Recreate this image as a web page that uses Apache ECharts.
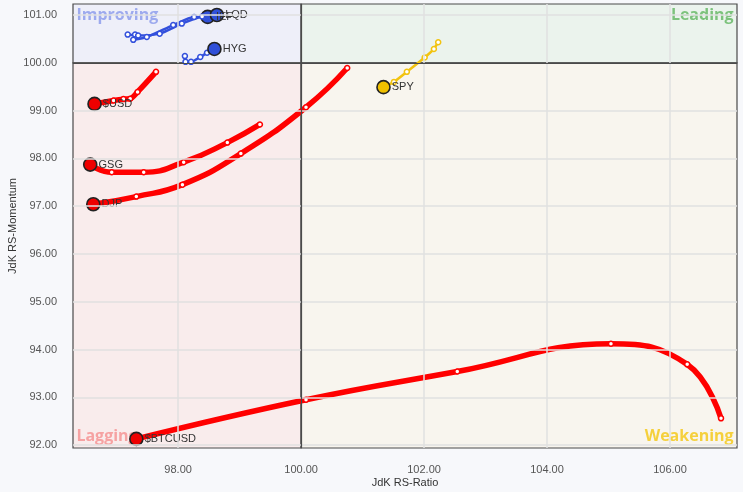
<!DOCTYPE html>
<html>
<head>
<meta charset="utf-8">
<script src="https://cdn.jsdelivr.net/npm/echarts@6/dist/echarts.min.js"></script>
<style>
html,body{margin:0;padding:0;background:#f7f8fb;}
#chart{width:743px;height:492px;}
</style>
</head>
<body>
<div id="chart"></div>
<script>
// ---- data ----
const xMin = 96.29, xMax = 107.09;
const yMin = 91.94, yMax = 101.23;
const xTickValues = [98, 100, 102, 104, 106];
const yTickValues = [92, 93, 94, 95, 96, 97, 98, 99, 100, 101];
const xGridValues = [98, 102, 104, 106];
const yGridValues = [92, 93, 94, 95, 96, 97, 98, 99, 101];

const tickers = ['$BTCUSD', '$USD', 'GSG', 'DJP', 'SPY', 'HYG', 'IEF', 'LQD'];

const btcusdX = [106.83, 106.28, 105.04, 102.54, 100.08, 97.32];
const btcusdY = [92.56, 93.69, 94.12, 93.54, 92.95, 92.13];
const usdX = [97.64, 97.34, 97.22, 97.11, 96.95, 96.64];
const usdY = [99.81, 99.39, 99.25, 99.24, 99.21, 99.14];
const gsgX = [99.33, 98.80, 98.09, 97.44, 96.92, 96.57];
const gsgY = [98.71, 98.33, 97.92, 97.71, 97.71, 97.87];
const djpX = [100.75, 100.08, 99.02, 98.07, 97.32, 96.62];
const djpY = [99.89, 99.07, 98.10, 97.45, 97.20, 97.04];
const spyX = [102.23, 102.16, 102.01, 101.72, 101.51, 101.34];
const spyY = [100.43, 100.29, 100.11, 99.81, 99.60, 99.49];
const hygX = [98.11, 98.12, 98.21, 98.36, 98.47, 98.59];
const hygY = [100.14, 100.02, 100.02, 100.12, 100.21, 100.29];
const iefX = [97.30, 97.27, 97.49, 97.92, 98.26, 98.48];
const iefY = [100.59, 100.48, 100.54, 100.79, 100.96, 100.96];
const lqdX = [97.18, 97.35, 97.70, 98.06, 98.39, 98.63];
const lqdY = [100.59, 100.57, 100.61, 100.82, 100.97, 101.00];

const quadrantNames = ['Improving', 'Leading', 'Lagging', 'Weakening'];

// ---- styles ----
const RED = '#ff0000', BLUE = '#3350dc', GOLD = '#f2c30f';
const seriesDefs = [
  {name: tickers[0], x: btcusdX, y: btcusdY, color: RED, head: '#ee0000', width: 5.5, smooth: 0.45},
  {name: tickers[1], x: usdX, y: usdY, color: RED, head: '#ee0000', width: 5.5, smooth: 0.3},
  {name: tickers[2], x: gsgX, y: gsgY, color: RED, head: '#ee0000', width: 5.5, smooth: 0.5},
  {name: tickers[3], x: djpX, y: djpY, color: RED, head: '#ee0000', width: 5.5, smooth: 0.5},
  {name: tickers[4], x: spyX, y: spyY, color: GOLD, head: '#f0c000', width: 2.5, smooth: 0.2},
  {name: tickers[5], x: hygX, y: hygY, color: BLUE, head: '#3050d8', width: 2.5, smooth: 0.2},
  {name: tickers[6], x: iefX, y: iefY, color: BLUE, head: '#3050d8', width: 2.5, smooth: 0.2},
  {name: tickers[7], x: lqdX, y: lqdY, color: BLUE, head: '#3050d8', width: 2.5, smooth: 0.2}
];

const FONT = 'Liberation Sans, Arial, sans-serif';

function buildSeries(d) {
  const n = d.x.length;
  const data = d.x.map((xv, i) => {
    if (i === n - 1) {
      return {
        value: [xv, d.y[i]],
        symbolSize: 13,
        itemStyle: {color: d.head, borderColor: '#222', borderWidth: 1.6},
        label: {show: true, formatter: d.name, position: 'right', distance: 1,
          color: '#333', fontSize: 11, fontFamily: FONT}
      };
    }
    return {
      value: [xv, d.y[i]],
      symbolSize: 5,
      itemStyle: {color: '#ffffff', borderColor: d.color, borderWidth: 1.5}
    };
  });
  return {
    type: 'line',
    name: d.name,
    data: data,
    smooth: d.smooth,
    symbol: 'circle',
    showAllSymbol: true,
    lineStyle: {color: d.color, width: d.width},
    itemStyle: {color: d.color},
    emphasis: {disabled: true},
    silent: true,
    z: 3,
    animation: false
  };
}

const qLabel = (color, pos) => ({
  show: true, position: pos, distance: 4,
  color: color, fontSize: 16, fontWeight: 'bold',
  fontFamily: 'Open Sans, Liberation Sans, sans-serif'
});

const chart = echarts.init(document.getElementById('chart'), null, {renderer: 'canvas'});
const option = {
  backgroundColor: '#f7f8fb',
  animation: false,
  grid: {left: 73, right: 6, top: 4, bottom: 44, outerBoundsMode: 'none', containLabel: false},
  xAxis: {
    type: 'value', min: xMin, max: xMax,
    name: 'JdK RS-Ratio', nameLocation: 'middle', nameGap: 29, nameMoveOverlap: false,
    nameTextStyle: {color: '#333', fontSize: 11, fontFamily: FONT},
    axisLine: {show: false}, axisTick: {show: false}, splitLine: {show: false},
    axisLabel: {customValues: xTickValues, margin: 16, color: '#555', fontSize: 11,
      fontFamily: FONT, formatter: v => Number(v).toFixed(2)}
  },
  yAxis: {
    type: 'value', min: yMin, max: yMax,
    name: 'JdK RS-Momentum', nameLocation: 'middle', nameGap: 55, nameRotate: 90, nameMoveOverlap: false,
    nameTextStyle: {color: '#333', fontSize: 11, fontFamily: FONT},
    axisLine: {show: false}, axisTick: {show: false}, splitLine: {show: false},
    axisLabel: {customValues: yTickValues, margin: 16, color: '#555', fontSize: 11,
      fontFamily: FONT, formatter: v => Number(v).toFixed(2)}
  },
  series: [
    {
      type: 'line', data: [], z: -2, silent: true,
      markArea: {
        silent: true,
        itemStyle: {borderColor: '#4a4a4a', borderWidth: 1.2},
        data: [
          [{xAxis: xMin, yAxis: 100, name: quadrantNames[0], itemStyle: {color: '#eeeff9'}, label: qLabel('#9daaee', 'insideTopLeft')},
           {xAxis: 100, yAxis: yMax}],
          [{xAxis: 100, yAxis: 100, name: quadrantNames[1], itemStyle: {color: '#ebf3ed'}, label: qLabel('#7cc27c', 'insideTopRight')},
           {xAxis: xMax, yAxis: yMax}],
          [{xAxis: xMin, yAxis: yMin, name: quadrantNames[2], itemStyle: {color: '#f9ecec'}, label: qLabel('#f6a2a2', 'insideBottomLeft')},
           {xAxis: 100, yAxis: 100}],
          [{xAxis: 100, yAxis: yMin, name: quadrantNames[3], itemStyle: {color: '#f8f5ee'}, label: qLabel('#f5d03c', 'insideBottomRight')},
           {xAxis: xMax, yAxis: 100}]
        ]
      }
    },
    {
      type: 'line', data: [], z: -1, silent: true,
      markLine: {
        silent: true, symbol: 'none', label: {show: false},
        lineStyle: {color: '#e1e1e1', width: 1.5, type: 'solid'},
        data: xGridValues.map(v => ({xAxis: v})).concat(yGridValues.map(v => ({yAxis: v})))
      }
    },
    {
      type: 'line', data: [], z: 0, silent: true,
      markLine: {
        silent: true, symbol: 'none', label: {show: false},
        lineStyle: {color: '#4a4a4a', width: 1.2, type: 'solid'},
        data: [{xAxis: 100}, {yAxis: 100}]
      }
    }
  ].concat(seriesDefs.map(buildSeries))
};
chart.setOption(option);
</script>
</body>
</html>
